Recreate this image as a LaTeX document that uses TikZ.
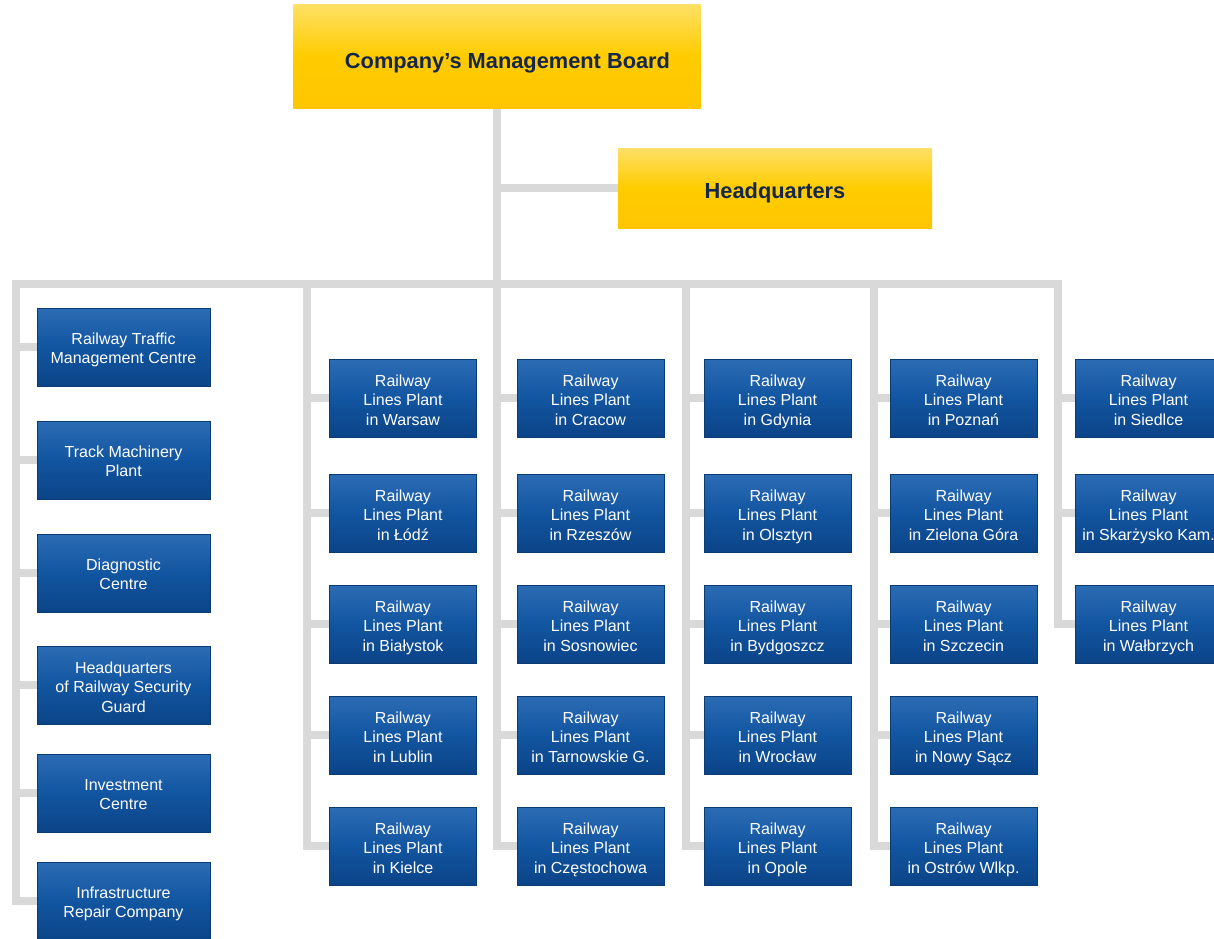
\documentclass[tikz,border=0pt]{standalone}
\usepackage{fontspec}
\setmainfont{Liberation Sans}
\usetikzlibrary{positioning,backgrounds}
\definecolor{boardyellow}{HTML}{FFCC00}
\definecolor{boardtop}{HTML}{FFE066}
\definecolor{boardtext}{HTML}{14264A}
\definecolor{plantblue}{HTML}{1255A0}
\definecolor{planttop}{HTML}{2C6CB5}
\definecolor{plantbottom}{HTML}{0B4488}
\definecolor{plantedge}{HTML}{0A3B73}
\definecolor{linegray}{HTML}{D9D9D9}
\tikzset{board/.style={top color=boardtop, bottom color=boardyellow!92!orange,
                       middle color=boardyellow, text=boardtext, text depth=5pt,
                       font=\fontsize{21.8}{26}\selectfont\bfseries, inner sep=0pt},
        unit/.style={top color=planttop, bottom color=plantbottom,
                     middle color=plantblue, draw=plantedge, line width=0.8pt,
                     text=white, align=center, inner sep=0pt, text depth=3.5pt,
                     minimum height=78pt, font=\fontsize{16}{19.5}\selectfont},
        dept/.style={unit, minimum width=173pt, text height=36.5pt},
        plant/.style={unit, minimum width=147pt, text height=58pt},
        branch/.style={draw=linegray, line width=8pt, line join=miter},
        }

\begin{document}
\begin{tikzpicture}[x=1pt, y=-1pt]
    \useasboundingbox (0,0) rectangle (1214,938);

    \node[board, text height=29.6pt, minimum width=407pt, minimum height=104pt] (board) at (497,56) {\hspace*{21pt}Company’s Management Board};
    \node[board, text height=25.6pt, minimum width=314pt, minimum height=80pt] (hq) at (775,188) {Headquarters};

    % departments
    \node[dept] (traffic) at (123.5,347) {Railway Traffic\\Management Centre};
    \node[dept] (machinery) at (123.5,460) {Track Machinery\\Plant};
    \node[dept] (diagnostic) at (123.5,573) {Diagnostic\\Centre};
    \node[dept, text height=58pt] (guard) at (123.5,685) {Headquarters\\of Railway Security\\Guard};
    \node[dept] (investment) at (123.5,793) {Investment\\Centre};
    \node[dept] (repair) at (123.5,901) {Infrastructure\\Repair Company};

    % railway lines plants
    \node[plant] (warsaw) at (403,398) {Railway\\Lines Plant\\in Warsaw};
    \node[plant] (lodz) at (403,513) {Railway\\Lines Plant\\in Łódź};
    \node[plant] (bialystok) at (403,624) {Railway\\Lines Plant\\in Białystok};
    \node[plant] (lublin) at (403,735) {Railway\\Lines Plant\\in Lublin};
    \node[plant] (kielce) at (403,846) {Railway\\Lines Plant\\in Kielce};

    \node[plant] (cracow) at (590.5,398) {Railway\\Lines Plant\\in Cracow};
    \node[plant] (rzeszow) at (590.5,513) {Railway\\Lines Plant\\in Rzeszów};
    \node[plant] (sosnowiec) at (590.5,624) {Railway\\Lines Plant\\in Sosnowiec};
    \node[plant] (tarnowskie) at (590.5,735) {Railway\\Lines Plant\\in Tarnowskie G.};
    \node[plant] (czestochowa) at (590.5,846) {Railway\\Lines Plant\\in Częstochowa};

    \node[plant] (gdynia) at (777.5,398) {Railway\\Lines Plant\\in Gdynia};
    \node[plant] (olsztyn) at (777.5,513) {Railway\\Lines Plant\\in Olsztyn};
    \node[plant] (bydgoszcz) at (777.5,624) {Railway\\Lines Plant\\in Bydgoszcz};
    \node[plant] (wroclaw) at (777.5,735) {Railway\\Lines Plant\\in Wrocław};
    \node[plant] (opole) at (777.5,846) {Railway\\Lines Plant\\in Opole};

    \node[plant] (poznan) at (963.5,398) {Railway\\Lines Plant\\in Poznań};
    \node[plant] (zielona) at (963.5,513) {Railway\\Lines Plant\\in Zielona Góra};
    \node[plant] (szczecin) at (963.5,624) {Railway\\Lines Plant\\in Szczecin};
    \node[plant] (nowysacz) at (963.5,735) {Railway\\Lines Plant\\in Nowy Sącz};
    \node[plant] (ostrow) at (963.5,846) {Railway\\Lines Plant\\in Ostrów Wlkp.};

    \node[plant] (siedlce) at (1148.5,398) {Railway\\Lines Plant\\in Siedlce};
    \node[plant] (skarzysko) at (1148.5,513) {Railway\\Lines Plant\\in Skarżysko Kam.};
    \node[plant] (walbrzych) at (1148.5,624) {Railway\\Lines Plant\\in Wałbrzych};

    % tops of the columns on the bus
    \coordinate (aTop) at (16,284);
    \coordinate (bTop) at (307,284);
    \coordinate (cTop) at (497,284);
    \coordinate (dTop) at (686,284);
    \coordinate (eTop) at (874,284);
    \coordinate (fTop) at (1058,284);

    \begin{scope}[on background layer]
        \draw[branch] (board) -- (cTop);
        \draw[branch] (hq.west -| cTop) -- (hq.west);
        \draw[branch] (repair.west) -- (aTop |- repair) -- (aTop) -- (fTop) -- (fTop |- walbrzych) -- (walbrzych.west);
        \draw[branch] (bTop) -- (bTop |- kielce) -- (kielce.west);
        \draw[branch] (cTop) -- (cTop |- czestochowa) -- (czestochowa.west);
        \draw[branch] (dTop) -- (dTop |- opole) -- (opole.west);
        \draw[branch] (eTop) -- (eTop |- ostrow) -- (ostrow.west);

        \draw[branch] (aTop |- traffic) -- (traffic.west);
        \draw[branch] (aTop |- machinery) -- (machinery.west);
        \draw[branch] (aTop |- diagnostic) -- (diagnostic.west);
        \draw[branch] (aTop |- guard) -- (guard.west);
        \draw[branch] (aTop |- investment) -- (investment.west);

        \draw[branch] (bTop |- warsaw) -- (warsaw.west);
        \draw[branch] (bTop |- lodz) -- (lodz.west);
        \draw[branch] (bTop |- bialystok) -- (bialystok.west);
        \draw[branch] (bTop |- lublin) -- (lublin.west);

        \draw[branch] (cTop |- cracow) -- (cracow.west);
        \draw[branch] (cTop |- rzeszow) -- (rzeszow.west);
        \draw[branch] (cTop |- sosnowiec) -- (sosnowiec.west);
        \draw[branch] (cTop |- tarnowskie) -- (tarnowskie.west);

        \draw[branch] (dTop |- gdynia) -- (gdynia.west);
        \draw[branch] (dTop |- olsztyn) -- (olsztyn.west);
        \draw[branch] (dTop |- bydgoszcz) -- (bydgoszcz.west);
        \draw[branch] (dTop |- wroclaw) -- (wroclaw.west);

        \draw[branch] (eTop |- poznan) -- (poznan.west);
        \draw[branch] (eTop |- zielona) -- (zielona.west);
        \draw[branch] (eTop |- szczecin) -- (szczecin.west);
        \draw[branch] (eTop |- nowysacz) -- (nowysacz.west);

        \draw[branch] (fTop |- siedlce) -- (siedlce.west);
        \draw[branch] (fTop |- skarzysko) -- (skarzysko.west);
    \end{scope}
\end{tikzpicture}
\end{document}
